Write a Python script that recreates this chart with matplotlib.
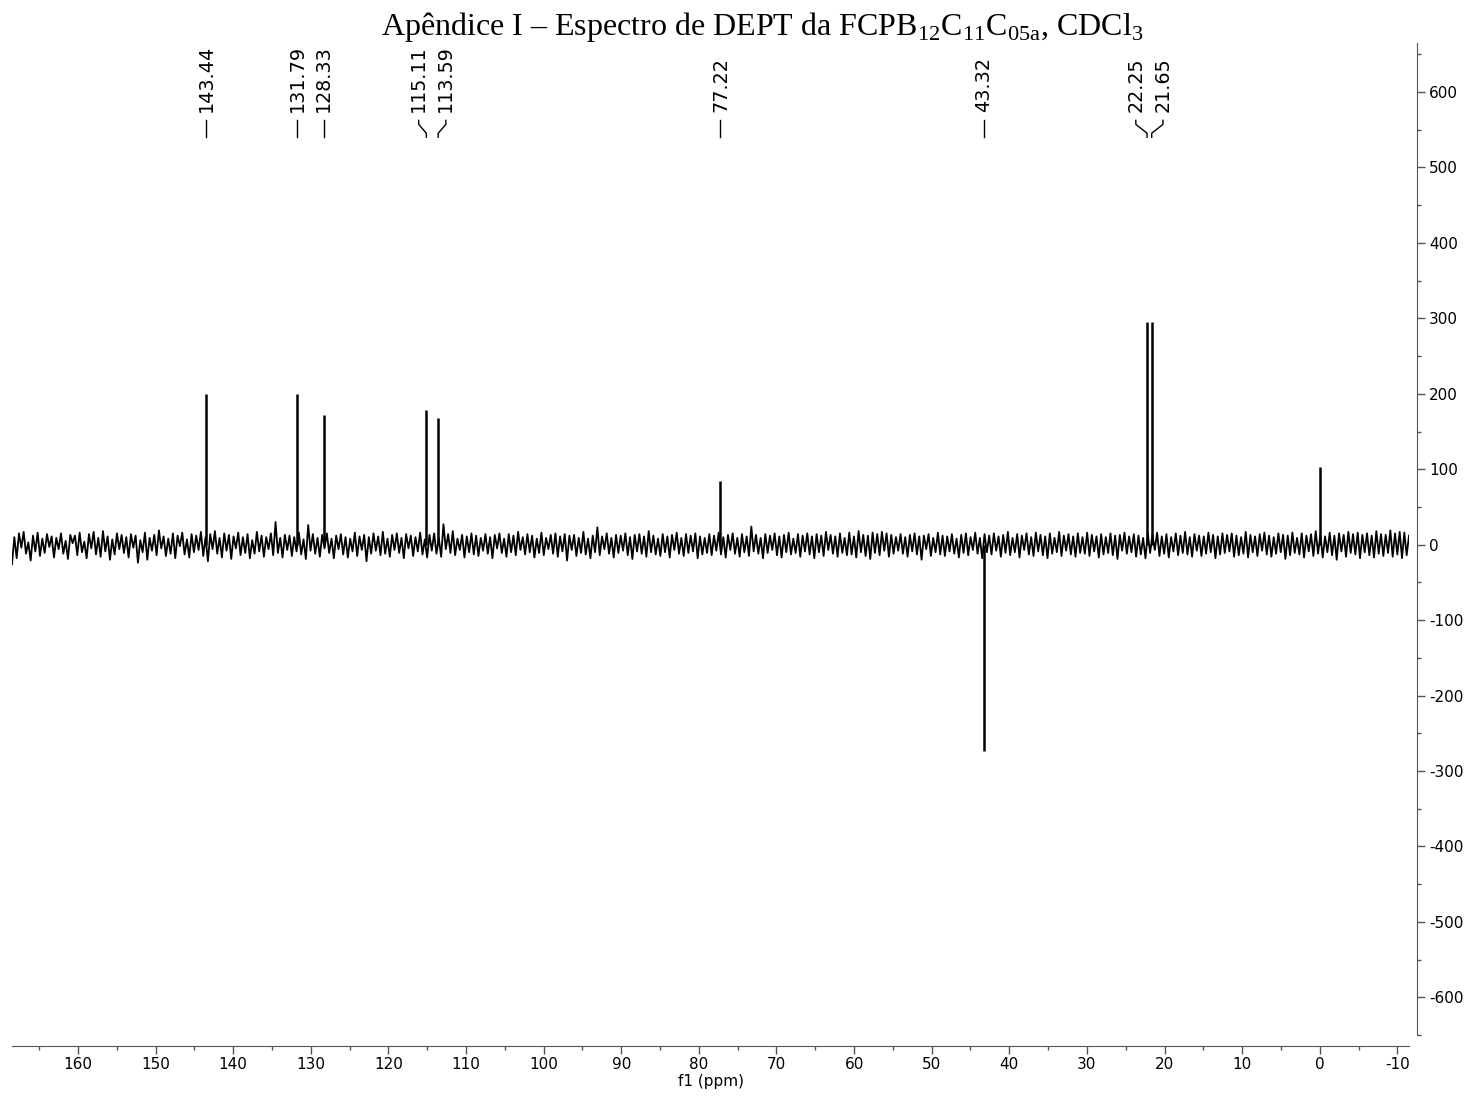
import numpy as np
import matplotlib
matplotlib.use("Agg")
import matplotlib.pyplot as plt
from matplotlib.transforms import blended_transform_factory

# baseline noise, read roughly left (168.5 ppm) to right (-11.5 ppm)
noise = [
    -26, 10, -18, 15, -4, 17, -12, 3, -21, 12, -9, 16, -15, 8, -11, 14, -3, 11, -17, 9,
    -6, 15, -12, 5, -19, 13, 2, 12, -14, 16, -10, 4, -18, 14, -5, 17, -13, 9, -16, 18,
    -9, 11, -20, 7, -13, 15, -6, 13, -11, 10, -17, 14, -4, 12, -24, 6, -10, 16, -20, 9,
    -8, 13, -14, 19, -5, 11, -15, 8, -12, 15, -18, 12, -2, 16, -13, 7, -17, 14, -10, 12,
    -7, 17, -15, 10, -22, 14, -6, 18, -12, 9, -17, 15, -8, 13, -19, 11, -5, 16, -14, 10,
    -11, 14, -18, 6, -12, 17, -9, 12, -16, 10, -6, 15, -14, 30, -11, 9, -17, 13, -7, 12,
    -15, 10, -9, 16, -13, 7, -19, 26, -8, 14, -12, 9, -16, 13, -5, 15, -11, 8, -18, 12,
    -6, 14, -13, 10, -17, 8, -9, 16, -15, 11, -7, 13, -22, 10, -12, 15, -8, 11, -14, 17,
    -12, 8, -16, 13, -7, 15, -11, 9, -18, 14, -5, 12, -15, 10, -9, 16, -13, 7, -17, 13,
    -8, 15, -12, 9, -16, 27, -6, 14, -11, 18, -14, 8, -7, 13, -17, 11, -10, 15, -13, 12,
    -15, 9, -8, 14, -12, 10, -18, 13, -5, 15, -11, 8, -16, 14, -10, 12, -14, 17, -7, 10,
    -13, 14, -10, 12, -17, 8, -11, 16, -14, 9, -6, 13, -12, 15, -16, 11, -9, 14, -21, 12,
    -7, 13, -15, 9, -11, 17, -13, 8, -18, 12, -10, 23, -14, 11, -6, 15, -12, 9, -17, 13,
    -11, 12, -8, 15, -14, 10, -19, 13, -9, 14, -12, 11, -16, 18, -10, 12, -13, 8, -15, 14,
    -10, 11, -17, 13, -7, 16, -12, 9, -15, 14, -11, 12, -9, 15, -18, 11, -13, 9, -11, 14,
    -14, 12, -8, 16, -13, 10, -17, 13, -7, 15, -12, 9, -16, 14, -10, 11, -15, 24, -9, 13,
    -12, 9, -18, 14, -11, 12, -7, 15, -14, 11, -17, 13, -10, 16, -13, 8, -11, 14, -16, 12,
    -9, 15, -13, 11, -18, 14, -10, 12, -15, 17, -7, 13, -12, 11, -16, 15, -11, 9, -14, 16,
    -13, 11, -17, 18, -10, 13, -15, 12, -19, 16, -11, 14, -14, 17, -8, 15, -16, 13, -12, 10,
    -8, 14, -12, 10, -16, 13, -9, 15, -13, 11, -20, 12, -6, 14, -15, 9, -10, 16, -13, 12,
    -15, 11, -9, 14, -12, 8, -17, 13, -11, 15, -14, 10, -7, 16, -12, 9, -18, 14, -10, 12,
    -13, 15, -8, 11, -16, 13, -11, 17, -14, 9, -10, 14, -17, 12, -7, 15, -13, 10, -15, 16,
    -9, 13, -14, 11, -18, 15, -12, 9, -10, 17, -15, 12, -8, 14, -13, 11, -16, 15, -11, 10,
    -12, 16, -15, 13, -9, 11, -17, 14, -13, 10, -11, 15, -14, 12, -19, 13, -8, 16, -12, 11,
    -10, 14, -16, 12, -13, 9, -18, 15, -11, 13, -7, 16, -15, 11, -12, 14, -17, 10, -9, 15,
    -14, 12, -11, 17, -13, 10, -16, 14, -8, 12, -15, 11, -12, 16, -10, 13, -18, 11, -13, 15,
    -11, 13, -9, 15, -16, 12, -14, 10, -12, 17, -17, 13, -10, 11, -15, 14, -8, 16, -13, 12,
    -16, 10, -12, 15, -10, 13, -19, 12, -14, 16, -11, 9, -13, 15, -17, 12, -9, 14, -15, 18,
    -12, 13, -17, 11, -10, 16, -14, 12, -20, 15, -9, 13, -16, 17, -11, 14, -13, 16, -18, 13,
    -10, 15, -14, 12, -17, 18, -12, 14, -15, 13, -11, 19, -16, 15, -13, 17, -18, 16, -14, 12,
]

peak_ppm = [143.44, 131.79, 128.33, 115.11, 113.59, 77.22, 43.32, 22.25, 21.65, 0.0]
peak_int = [200, 200, 172, 178, 168, 85, -273, 295, 295, 103]

label_ppm = [143.44, 131.79, 128.33, 115.11, 113.59, 77.22, 43.32, 22.25, 21.65]
label_txt = ["143.44", "131.79", "128.33", "115.11", "113.59", "77.22", "43.32", "22.25", "21.65"]
label_pos = [143.44, 131.79, 128.33, 116.1, 112.6, 77.22, 43.32, 23.7, 20.2]

title = (r"Apêndice I – Espectro de DEPT da FCPB$_{\mathrm{12}}$C$_{\mathrm{11}}$"
         r"C$_{\mathrm{05a}}$, CDCl$_{\mathrm{3}}$")

plt.rcParams['mathtext.fontset'] = 'custom'
plt.rcParams['mathtext.rm'] = 'Liberation Serif'
plt.rcParams['font.family'] = 'DejaVu Sans'
plt.rcParams['axes.unicode_minus'] = False

W, H = 1470, 1099
fig = plt.figure(figsize=(W / 100, H / 100), dpi=100)
ax = fig.add_axes([12 / W, 1 - 1035 / H, (1409 - 12) / W, (1035 - 43) / H])

ppm = np.linspace(168.5, -11.5, len(noise))
ax.plot(ppm, noise, color='black', lw=1.3)
ax.vlines(peak_ppm, 0, peak_int, color='black', lw=1.8)

ax.set_xlim(168.5, -11.5)
ax.set_ylim(-614, 665)

for s in ['top', 'left']:
    ax.spines[s].set_visible(False)
ax.spines['right'].set_position(('outward', 6))
ax.spines['bottom'].set_position(('outward', 8))
ax.spines['right'].set_color('#555555')
ax.spines['bottom'].set_color('#555555')

ax.yaxis.tick_right()
ax.set_xticks(np.arange(160, -11, -10))
ax.set_xticks(np.arange(165, -12, -5), minor=True)
ax.set_yticks(np.arange(-600, 601, 100))
ax.set_yticks(np.arange(-650, 651, 50), minor=True)
ax.tick_params(which='major', direction='out', length=5.5, width=1, color='#555555', labelsize=11)
ax.tick_params(which='minor', direction='out', length=3, width=1, color='#555555')
ax.tick_params(axis='y', which='both', left=False, right=True, pad=3)
ax.tick_params(axis='x', which='major', pad=2)
ax.set_xlabel('f1 (ppm)', fontsize=11, labelpad=2)

trans = blended_transform_factory(ax.transData, ax.transAxes)
for p, t, lp in zip(label_ppm, label_txt, label_pos):
    ax.text(lp, 0.930, t, rotation=90, ha='center', va='bottom', fontsize=13.8, transform=trans)
    ax.plot([lp, lp, p, p], [0.922, 0.918, 0.909, 0.905], color='black', lw=1.0,
            transform=trans, clip_on=False)

fig.text(762 / W, 1 - 35 / H, title, ha='center', va='baseline', fontsize=23,
         family='Liberation Serif')

fig.savefig('out.png', dpi=100)
